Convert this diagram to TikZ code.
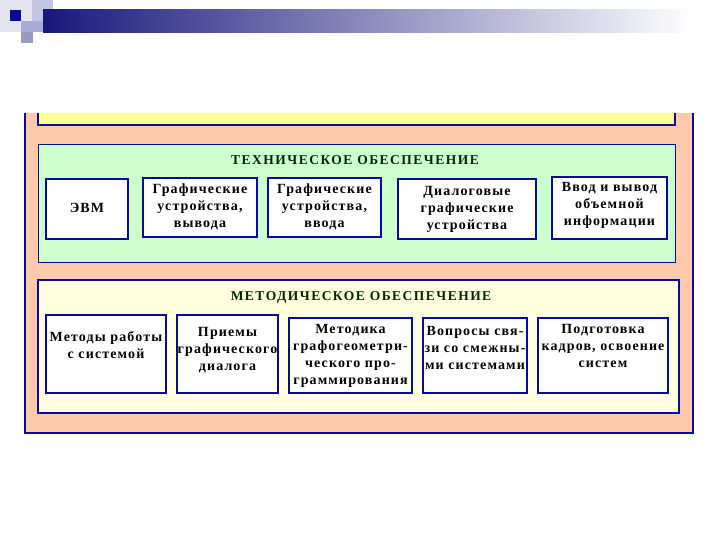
\documentclass[tikz,border=0pt]{standalone}
\usepackage{fontspec}
\setmainfont{Liberation Serif}
\usetikzlibrary{positioning}

\definecolor{rama}{HTML}{0A0A9A}
\definecolor{persik}{HTML}{FFC9AC}
\definecolor{salat}{HTML}{CCFFCC}
\definecolor{krem}{HTML}{FFFFE0}
\definecolor{zholt}{HTML}{FFFF99}
\definecolor{shapka}{HTML}{18187C}
\definecolor{seryj}{HTML}{A4A8C4}
\definecolor{blednyj}{HTML}{E4E4EF}
\definecolor{sirenevyj}{HTML}{A8ACD6}

% строки текста в блоке, [#1] -- добавка снизу
\newcommand{\stroki}[2][0pt]{\begin{tabular}{@{}c@{}}#2\\[#1]\end{tabular}}

\tikzset{
  blok/.style={draw=rama, line width=1.8pt, fill=white, inner sep=0pt,
    font=\fontsize{14}{17}\selectfont\bfseries\addfontfeatures{LetterSpace=8}},
  zagolovok/.style={inner sep=0pt, text=black!85!green,
    font=\fontsize{13.5}{15}\selectfont\bfseries\addfontfeatures{LetterSpace=11}},
  ramka/.style={draw=rama, line width=2.4pt}
}

\begin{document}
\begin{tikzpicture}[x=1pt, y=-1pt]
  \useasboundingbox (0,0) rectangle (720,540);

  % шапка
  \fill[blednyj] (0,0) rectangle (32,32);
  \fill[sirenevyj!70!white] (32,0) rectangle (53,21);
  \fill[sirenevyj] (21,21) rectangle (43,32);
  \fill[sirenevyj!90!black] (21,32) rectangle (33,43);
  \fill[rama] (10,10) rectangle (21,21);
  \shade[left color=shapka, middle color=seryj, right color=white] (43,10) rectangle (693,33);

  % общая рамка, верх срезан
  \fill[persik] (25,113) rectangle (693,433);
  \draw[ramka] (25,113) -- (25,433) -- (693,433) -- (693,113);
  \fill[zholt] (38,113) rectangle (675,125);
  \draw[draw=rama, line width=1.5pt] (38,113) -- (38,125) -- (675,125) -- (675,113);

  % техническое обеспечение
  \draw[rama, line width=0.8pt, fill=salat] (38,144) rectangle (675,262);
  \node[zagolovok] (tehn) at (355,160) {ТЕХНИЧЕСКОЕ ОБЕСПЕЧЕНИЕ};
  \node[blok, minimum width=82pt, minimum height=60pt] (evm) at (87,209) {\stroki{ЭВМ}};
  \node[blok, minimum width=114pt, minimum height=59pt] (vyvod) at (200,207.5)
    {\stroki{Графические\\устройства,\\вывода}};
  \node[blok, minimum width=113pt, minimum height=59pt] (vvod) at (324.5,207.5)
    {\stroki{Графические\\устройства,\\ввода}};
  \node[blok, minimum width=138pt, minimum height=60pt] (dialog) at (467,209)
    {\stroki{Диалоговые\\графические\\устройства}};
  \node[blok, minimum width=115pt, minimum height=62pt] (obem) at (609.5,208)
    {\stroki[6pt]{Ввод и вывод\\объемной\\информации}};

  % методическое обеспечение
  \draw[rama, line width=1.5pt, fill=krem] (38,280) rectangle (679,413);
  \node[zagolovok] (metod) at (361,297) {МЕТОДИЧЕСКОЕ ОБЕСПЕЧЕНИЕ};
  \node[blok, minimum width=120pt, minimum height=78pt] (rabota) at (106,354)
    {\stroki[15pt]{Методы работы\\с системой}};
  \node[blok, minimum width=101pt, minimum height=78pt] (priemy) at (227.5,354)
    {\stroki[8pt]{Приемы\\графического\\диалога}};
  \node[blok, minimum width=123pt, minimum height=75pt] (metodika) at (350.5,355.5)
    {\stroki{Методика\\графогеометри-\\ческого про-\\граммирования}};
  \node[blok, minimum width=104pt, minimum height=75pt] (voprosy) at (475,355.5)
    {\stroki[13pt]{Вопросы свя-\\зи со смежны-\\ми системами}};
  \node[blok, minimum width=130pt, minimum height=75pt] (kadry) at (603,355.5)
    {\stroki[17pt]{Подготовка\\кадров, освоение\\систем}};
\end{tikzpicture}
\end{document}
